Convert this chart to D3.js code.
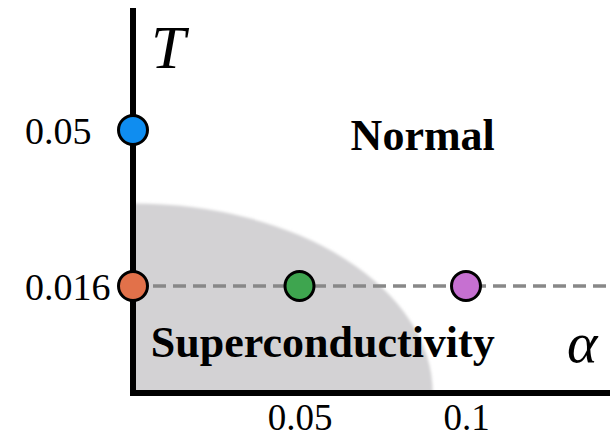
<!DOCTYPE html>
<html>
<head>
<meta charset="utf-8">
<script src="https://cdn.jsdelivr.net/npm/d3@7"></script>
<style>
  html, body { margin: 0; padding: 0; background: #fff; }
  svg { display: block; }
  text { font-family: "Liberation Serif", "Times New Roman", serif; fill: #000; }
</style>
</head>
<body>
<script>
// Sampled points on the (alpha, T) plane
const pointAlpha = [0, 0, 0.05, 0.1];
const pointT = [0.05, 0.016, 0.016, 0.016];
const pointColors = ["#0f8df0", "#e2714a", "#3ea54f", "#c670d1"];

// Tick labels
const xTickValues = [0.05, 0.1];
const xTickLabels = ["0.05", "0.1"];
const yTickValues = [0.05, 0.016];
const yTickLabels = ["0.05", "0.016"];

// Superconducting dome: critical T at alpha = 0, critical alpha at T = 0
const domeTc = 0.034;
const domeAlphaC = 0.09;

// Phase names and their anchor positions (alpha, T)
const phaseNames = ["Normal", "Superconductivity"];
const phaseAlpha = [0.087, 0.057];
const phaseT = [0.0456, 0.0054];

const width = 610, height = 439;

const svg = d3.select("body").append("svg")
  .attr("width", width)
  .attr("height", height);

// Schematic axes: alpha linear, T stretched between the marked temperatures
const x = d3.scaleLinear().domain([0, 0.1]).range([133, 466]);
const y = d3.scaleLinear().domain([0, 0.016, 0.05]).range([393, 286, 130]);

const defs = svg.append("defs");
defs.append("filter").attr("id", "soft")
  .attr("x", "-10%").attr("y", "-10%").attr("width", "120%").attr("height", "120%")
  .append("feGaussianBlur").attr("stdDeviation", 1.6);
defs.append("clipPath").attr("id", "quadrant")
  .append("rect")
  .attr("x", x(0)).attr("y", 0)
  .attr("width", width - x(0)).attr("height", y(0));

// Superconducting region
svg.append("g").attr("clip-path", "url(#quadrant)")
  .append("ellipse")
  .attr("cx", x(0)).attr("cy", y(0))
  .attr("rx", x(domeAlphaC) - x(0))
  .attr("ry", y(0) - y(domeTc))
  .attr("fill", "#d3d2d4")
  .attr("filter", "url(#soft)");

// Dashed line at the lower temperature
svg.append("line")
  .attr("x1", x(0)).attr("x2", width)
  .attr("y1", y(0.016)).attr("y2", y(0.016))
  .attr("stroke", "#888")
  .attr("stroke-width", 3.5)
  .attr("stroke-dasharray", "13,7");

// Axes
svg.append("line")
  .attr("x1", x(0)).attr("x2", x(0))
  .attr("y1", 8).attr("y2", y(0) + 3)
  .attr("stroke", "#000").attr("stroke-width", 6);

const xAxis = d3.axisBottom(x)
  .tickValues(xTickValues)
  .tickFormat((d, i) => xTickLabels[i])
  .tickSize(0)
  .tickSizeOuter(0)
  .tickPadding(11);

const gx = svg.append("g")
  .attr("transform", `translate(0,${y(0)})`)
  .call(xAxis);
gx.select(".domain")
  .attr("d", `M${x(0) - 3},0H${width}`)
  .attr("stroke", "#000").attr("stroke-width", 6);
gx.selectAll(".tick text")
  .attr("font-family", "Liberation Serif, serif")
  .attr("font-size", 37)
  .attr("fill", "#000");

// Temperature labels, left aligned
svg.append("g").selectAll("text")
  .data(yTickValues)
  .join("text")
  .attr("x", 25)
  .attr("y", d => y(d) + 14)
  .attr("font-size", 38)
  .text((d, i) => yTickLabels[i]);

// Axis symbols
svg.append("text")
  .attr("x", 151).attr("y", 68)
  .attr("font-size", 62).attr("font-style", "italic")
  .text("T");
svg.append("text")
  .attr("x", 567).attr("y", 362)
  .attr("font-size", 58).attr("font-style", "italic")
  .text("α");

// Phase names
svg.append("g").selectAll("text")
  .data(phaseNames)
  .join("text")
  .attr("x", (d, i) => x(phaseAlpha[i]))
  .attr("y", (d, i) => y(phaseT[i]))
  .attr("text-anchor", "middle")
  .attr("font-size", 44)
  .attr("font-weight", "bold")
  .text(d => d);

// Points
svg.append("g").selectAll("circle")
  .data(pointAlpha)
  .join("circle")
  .attr("cx", d => x(d))
  .attr("cy", (d, i) => y(pointT[i]))
  .attr("r", 14.5)
  .attr("fill", (d, i) => pointColors[i])
  .attr("stroke", "#000")
  .attr("stroke-width", 3);
</script>
</body>
</html>
